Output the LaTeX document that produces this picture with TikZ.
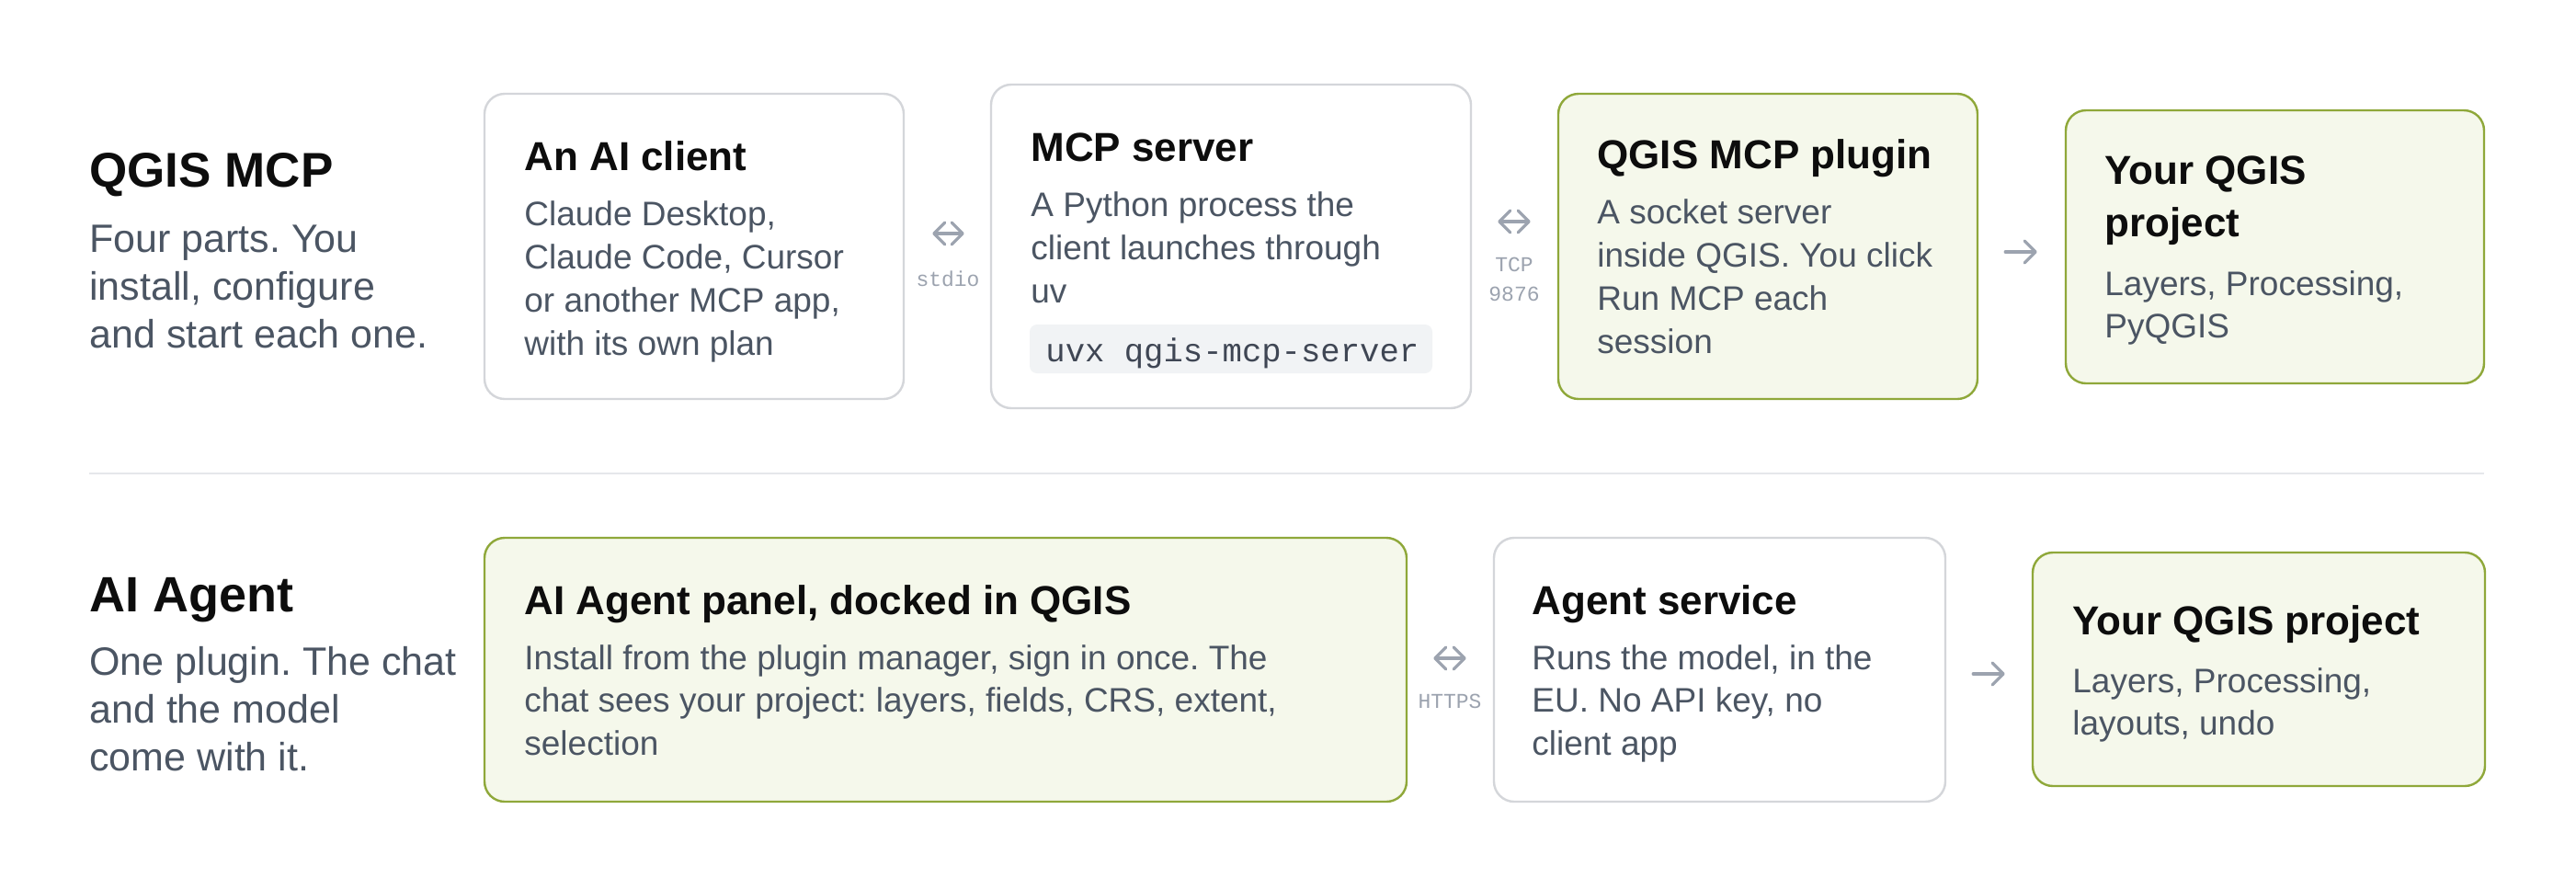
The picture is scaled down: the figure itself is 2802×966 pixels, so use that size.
\documentclass[tikz,border=0pt]{standalone}
\usepackage{fontspec}
\setmainfont{Liberation Sans}
\setmonofont{Liberation Mono}
\usetikzlibrary{arrows.meta}
\definecolor{ink}{HTML}{0D0D0D}
\definecolor{bodyc}{HTML}{4B5563}
\definecolor{lblc}{HTML}{9CA3AF}
\definecolor{arrc}{HTML}{9CA3AF}
\definecolor{graybd}{HTML}{D4D6DA}
\definecolor{greenbd}{HTML}{8FA83A}
\definecolor{greenbg}{HTML}{F5F8EB}
\definecolor{chipbg}{HTML}{F1F3F5}
\definecolor{chiptx}{HTML}{3F4654}
\definecolor{sepc}{HTML}{E5E7EB}
\frenchspacing
\begin{document}
\begin{tikzpicture}[x=0.5pt,y=-0.5pt,
  card/.style={draw=graybd, fill=white, line width=1.2pt, rounded corners=11pt, inner sep=0pt},
  gcard/.style={card, draw=greenbd, fill=greenbg},
  head/.style={anchor=base west, inner sep=0pt, text=ink, font=\fontsize{26.5pt}{32pt}\selectfont\bfseries},
  sub/.style={anchor=base west, inner sep=0pt, text=bodyc, align=left, font=\fontsize{21.5pt}{26pt}\selectfont},
  ttl/.style={anchor=base west, inner sep=0pt, text=ink, align=left, font=\fontsize{22pt}{28.5pt}\selectfont\bfseries},
  txt/.style={anchor=base west, inner sep=0pt, text=bodyc, align=left, font=\fontsize{18.5pt}{23.35pt}\selectfont},
  lbl/.style={anchor=base, inner sep=0pt, text=lblc, align=center, font=\fontsize{11.5pt}{16pt}\selectfont\ttfamily},
  barb/.tip={Straight Barb[length=6pt,width=12pt,line join=round,line cap=round]},
  dbl/.style={draw=arrc, line width=1.6pt, line cap=round, barb-barb},
  sgl/.style={draw=arrc, line width=1.6pt, line cap=round, -barb},
  chip/.style={fill=chipbg, rounded corners=4pt, inner sep=0pt, minimum width=219pt, minimum height=26.5pt}
]
\fill[white] (0,0) rectangle (2802,966);
\useasboundingbox (0,0) rectangle (2802,966);

% (multi-line text nodes are placed by the baseline of their last line)
% ---------- Row 1 : QGIS MCP ----------
\node[head] (h1) at (97,203) {QGIS MCP};
\node[sub] (s1) at (97,378) {Four parts. You\\install, configure\\and start each one.};

\node[card, minimum width=228pt, minimum height=166pt] (client) at (755,268) {};
\node[ttl] (client-t) at (570,185) {An AI client};
\node[txt] (client-b) at (570,386) {Claude Desktop,\\Claude Code, Cursor\\or another MCP app,\\with its own plan};

\node[card, minimum width=261pt, minimum height=176pt] (server) at (1339,268) {};
\node[ttl] (server-t) at (1121,175) {MCP server};
\node[txt] (server-b) at (1121,329) {A Python process the\\client launches through\\uv};
\node[chip] (cmd) at (1339,379.5) {};
\node[anchor=base west, inner sep=0pt, text=chiptx, font=\fontsize{17.8pt}{20pt}\selectfont\ttfamily] (cmd-t) at (1137,393) {uvx qgis-mcp-server};

\node[gcard, minimum width=228pt, minimum height=166pt] (plugin) at (1923,268) {};
\node[ttl] (plugin-t) at (1737,183) {QGIS MCP plugin};
\node[txt] (plugin-b) at (1737,384) {A socket server\\inside QGIS. You click\\Run MCP each\\session};

\node[gcard, minimum width=227.5pt, minimum height=148.5pt] (proj1) at (2474.5,268.5) {};
\node[ttl] (proj1-t) at (2289,257) {Your QGIS\\project};
\node[txt] (proj1-b) at (2289,367.7) {Layers, Processing,\\PyQGIS};

\coordinate (y1) at (0,254);
\coordinate (y2) at (0,241);
\coordinate (y3) at (0,274);
\draw[dbl, shorten <=15pt, shorten >=14pt] (client.east |- y1) -- (server.west |- y1);
\node[lbl] (l1) at (1031,311) {stdio};
\draw[dbl, shorten <=14pt, shorten >=14.5pt] (server.east |- y2) -- (plugin.west |- y2);
\node[lbl] (l2) at (1647,327) {TCP\\9876};
\draw[sgl, shorten <=14.5pt, shorten >=15pt] (plugin.east |- y3) -- (proj1.west |- y3);

% separator
\coordinate (sepL) at (97,515);
\coordinate (sepR) at (2702,515);
\draw[sepc, line width=1pt] (sepL) -- (sepR);

% ---------- Row 2 : AI Agent ----------
\node[head, font=\fontsize{27pt}{32pt}\selectfont\bfseries] (h2) at (97,665) {AI Agent};
\node[sub] (s2) at (97,838) {One plugin. The chat\\and the model\\come with it.};

\node[gcard, minimum width=501.5pt, minimum height=143.5pt] (panel) at (1028.5,728.5) {};
\node[ttl] (panel-t) at (570,668) {AI Agent panel, docked in QGIS};
\node[txt] (panel-b) at (570,821.4) {Install from the plugin manager, sign in once. The\\chat sees your project: layers, fields, CRS, extent,\\selection};

\node[card, minimum width=245.5pt, minimum height=143.5pt] (agent) at (1870.5,728.5) {};
\node[ttl] (agent-t) at (1666,668) {Agent service};
\node[txt] (agent-b) at (1666,821.4) {Runs the model, in the\\EU. No API key, no\\client app};

\node[gcard, minimum width=246pt, minimum height=127pt] (proj2) at (2457,728) {};
\node[ttl] (proj2-t) at (2254,690) {Your QGIS project};
\node[txt] (proj2-b) at (2254,799.7) {Layers, Processing,\\layouts, undo};

\coordinate (y4) at (0,716);
\coordinate (y5) at (0,733);
\draw[dbl, shorten <=14pt, shorten >=14.5pt] (panel.east |- y4) -- (agent.west |- y4);
\node[lbl] (l3) at (1577,770) {HTTPS};
\draw[sgl, shorten <=14.5pt, shorten >=14.5pt] (agent.east |- y5) -- (proj2.west |- y5);
\end{tikzpicture}
\end{document}
